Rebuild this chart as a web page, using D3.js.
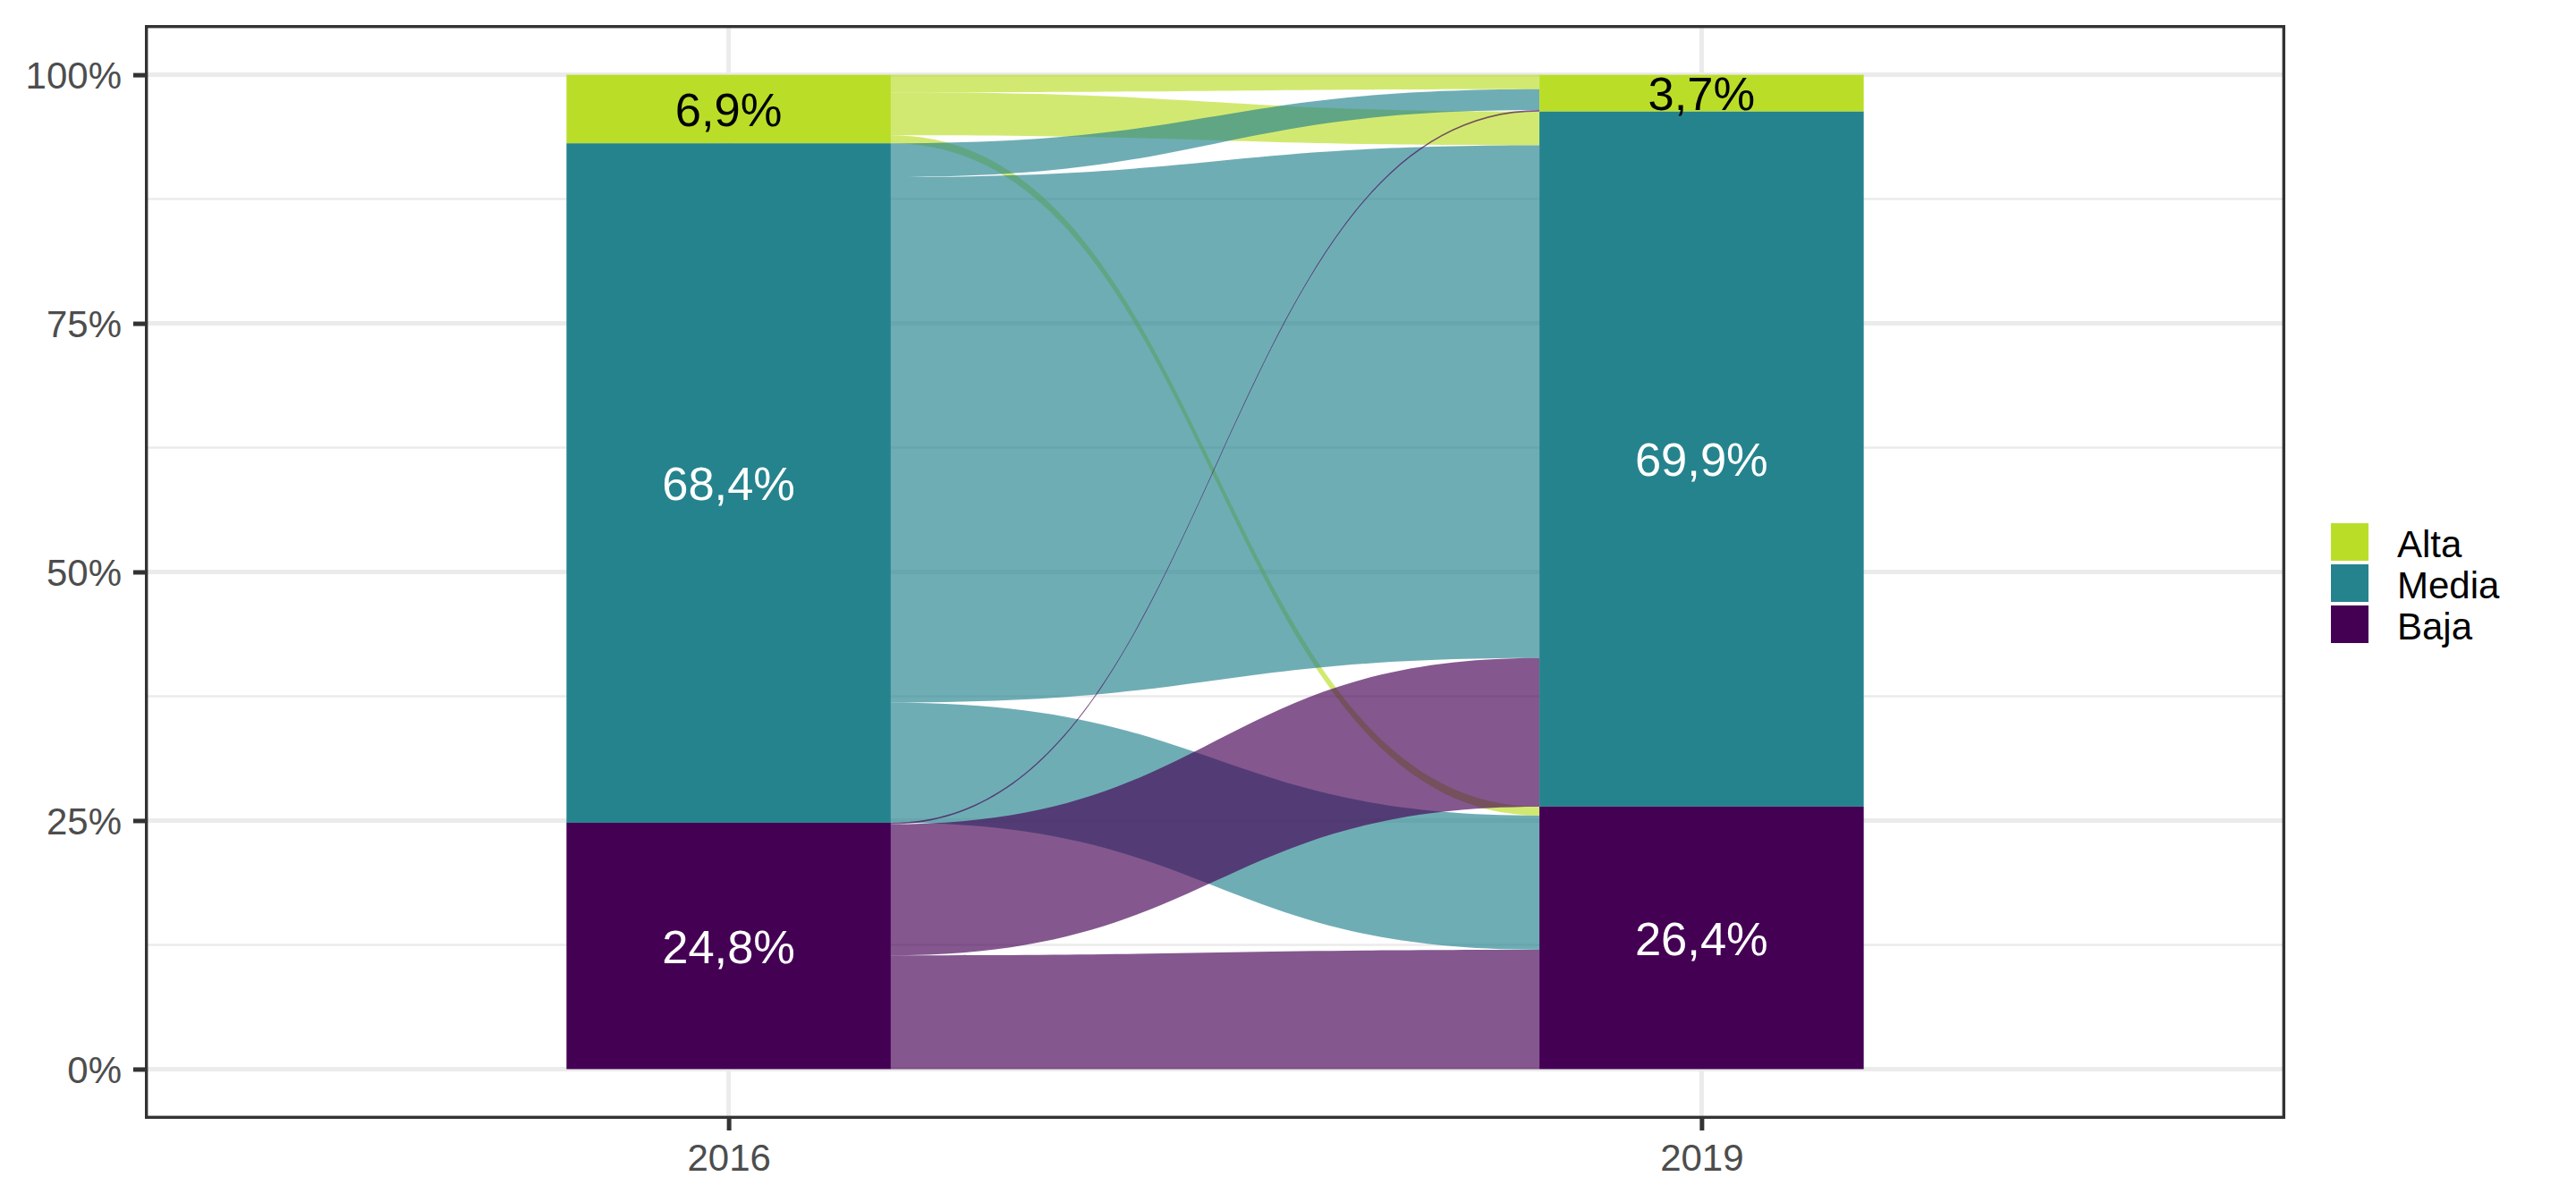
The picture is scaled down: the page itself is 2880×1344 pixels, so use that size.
<!DOCTYPE html>
<html>
<head>
<meta charset="utf-8">
<script src="https://cdn.jsdelivr.net/npm/d3@7"></script>
<style>
  body { margin: 0; background: #fff; }
  text { font-family: "Liberation Sans", Arial, sans-serif; }
</style>
</head>
<body>
<svg></svg>
<script>
const years = ["2016", "2019"];
const levels = ["Alta", "Media", "Baja"];   // top to bottom, as in the legend
const share2016 = [6.9, 68.4, 24.8];
const share2019 = [3.7, 69.9, 26.4];
const shareLabels2016 = ["6,9%", "68,4%", "24,8%"];
const shareLabels2019 = ["3,7%", "69,9%", "26,4%"];

// flows between the two years (weights read at each end)
const flowFrom  = ["Alta", "Alta", "Alta", "Media", "Media", "Media", "Baja", "Baja", "Baja"];
const flowTo    = ["Alta", "Media", "Baja", "Alta", "Media", "Baja", "Alta", "Media", "Baja"];
const weight2016 = [1.75, 4.25, 0.8, 3.4, 52.9, 12.1, 0.15, 13.2, 11.45];
const weight2019 = [1.44, 3.4, 0.9, 2.09, 51.6, 13.5, 0.15, 14.95, 12.0];

const yTicks = [0, 25, 50, 75, 100];
const yMinor = [12.5, 37.5, 62.5, 87.5];

const svgWidth = 2880;
const svgHeight = 1344;
const svg = d3.select("svg")
    .attr("width", svgWidth)
    .attr("height", svgHeight);

const panel = {left: 162, right: 2555, top: 28, bottom: 1251};

const x = d3.scalePoint()
    .domain(years)
    .range([panel.left, panel.right])
    .padding(0.6);
const barW = x.step() / 3;

const y = d3.scaleLinear()
    .domain([-5, 105])
    .range([panel.bottom, panel.top]);

const color = d3.scaleOrdinal()
    .domain(levels)
    .range(["#BADE28", "#25838E", "#440154"]);

// grid
const grid = svg.append("g");
grid.selectAll(".minor")
    .data(yMinor)
    .enter().append("line")
    .attr("x1", panel.left).attr("x2", panel.right)
    .attr("y1", d => y(d)).attr("y2", d => y(d))
    .attr("stroke", "#EBEBEB").attr("stroke-width", 2.5);
grid.selectAll(".major")
    .data(yTicks)
    .enter().append("line")
    .attr("x1", panel.left).attr("x2", panel.right)
    .attr("y1", d => y(d)).attr("y2", d => y(d))
    .attr("stroke", "#EBEBEB").attr("stroke-width", 5);
grid.selectAll(".vmajor")
    .data(years)
    .enter().append("line")
    .attr("x1", d => x(d)).attr("x2", d => x(d))
    .attr("y1", panel.top).attr("y2", panel.bottom)
    .attr("stroke", "#EBEBEB").attr("stroke-width", 5);

// strata positions (stacked from the bottom)
function stack(shares) {
    const total = d3.sum(shares);
    const out = {};
    let acc = 0;
    for (let i = levels.length - 1; i >= 0; --i) {
        const h = shares[i] / total * 100;
        out[levels[i]] = {bottom: acc, top: acc + h};
        acc += h;
    }
    return out;
}
const strata0 = stack(share2016);
const strata1 = stack(share2019);

const flows = flowFrom.map((f, i) => ({from: f, to: flowTo[i], w0: weight2016[i], w1: weight2019[i]}));

levels.forEach(s => {
    // left end: inside the 2016 stratum, ordered by destination
    const out = flows.filter(d => d.from === s)
        .sort((a, b) => levels.indexOf(a.to) - levels.indexOf(b.to));
    let cur = strata0[s].top;
    const tot0 = d3.sum(out, d => d.w0);
    out.forEach(d => {
        const h = d.w0 / tot0 * (strata0[s].top - strata0[s].bottom);
        d.top0 = cur; d.bot0 = cur - h; cur -= h;
    });
    // right end: inside the 2019 stratum, ordered by origin
    const inc = flows.filter(d => d.to === s)
        .sort((a, b) => levels.indexOf(a.from) - levels.indexOf(b.from));
    cur = strata1[s].top;
    const tot1 = d3.sum(inc, d => d.w1);
    inc.forEach(d => {
        const h = d.w1 / tot1 * (strata1[s].top - strata1[s].bottom);
        d.top1 = cur; d.bot1 = cur - h; cur -= h;
    });
});

const x0 = x(years[0]) + barW / 2;
const x1 = x(years[1]) - barW / 2;
const xm = (x0 + x1) / 2;

function flowPath(d) {
    const p = d3.path();
    p.moveTo(x0, y(d.top0));
    p.bezierCurveTo(xm, y(d.top0), xm, y(d.top1), x1, y(d.top1));
    p.lineTo(x1, y(d.bot1));
    p.bezierCurveTo(xm, y(d.bot1), xm, y(d.bot0), x0, y(d.bot0));
    p.closePath();
    return p.toString();
}

svg.append("g")
    .selectAll("path")
    .data(flows)
    .enter().append("path")
    .attr("d", flowPath)
    .attr("fill", d => color(d.from))
    .attr("fill-opacity", 0.66);

// strata bars + labels
const strataData = [];
levels.forEach((l, i) => {
    strataData.push({year: years[0], level: l, top: strata0[l].top, bottom: strata0[l].bottom, label: shareLabels2016[i]});
    strataData.push({year: years[1], level: l, top: strata1[l].top, bottom: strata1[l].bottom, label: shareLabels2019[i]});
});

svg.append("g")
    .selectAll("rect")
    .data(strataData)
    .enter().append("rect")
    .attr("x", d => x(d.year) - barW / 2)
    .attr("width", barW)
    .attr("y", d => y(d.top))
    .attr("height", d => y(d.bottom) - y(d.top))
    .attr("fill", d => color(d.level));

svg.append("g")
    .selectAll("text")
    .data(strataData)
    .enter().append("text")
    .attr("x", d => x(d.year))
    .attr("y", d => y((d.top + d.bottom) / 2) + 0.36 * 52.5)
    .attr("text-anchor", "middle")
    .attr("font-size", 52.5)
    .attr("fill", d => d.level === "Alta" ? "#000" : "#fff")
    .text(d => d.label);

// panel border
svg.append("rect")
    .attr("x", panel.left + 1.7)
    .attr("y", panel.top + 1.7)
    .attr("width", panel.right - panel.left - 3.4)
    .attr("height", panel.bottom - panel.top - 3.4)
    .attr("fill", "none")
    .attr("stroke", "#333333")
    .attr("stroke-width", 3.4);

// axes
const yAxis = svg.append("g")
    .attr("transform", "translate(" + panel.left + ",0)")
    .call(d3.axisLeft(y).tickValues(yTicks).tickFormat(d => d + "%").tickSize(13).tickPadding(13));
const xAxis = svg.append("g")
    .attr("transform", "translate(0," + panel.bottom + ")")
    .call(d3.axisBottom(x).tickSize(13).tickPadding(15));

[yAxis, xAxis].forEach(a => {
    a.select(".domain").remove();
    a.selectAll(".tick line").attr("stroke", "#333333").attr("stroke-width", 5);
    a.selectAll(".tick text")
        .attr("font-size", 42)
        .attr("font-family", "'Liberation Sans', Arial, sans-serif")
        .attr("fill", "#4D4D4D");
});
yAxis.selectAll(".tick text").attr("dy", "0.36em");

// legend
const legend = svg.append("g")
    .selectAll("g")
    .data(levels)
    .enter().append("g")
    .attr("transform", (d, i) => "translate(2606," + (585 + i * 46) + ")");

legend.append("rect")
    .attr("width", 42)
    .attr("height", 42)
    .attr("fill", d => color(d));

legend.append("text")
    .attr("x", 74)
    .attr("y", 21 + 17)
    .attr("font-size", 42)
    .attr("fill", "#000")
    .text(d => d);
</script>
</body>
</html>
